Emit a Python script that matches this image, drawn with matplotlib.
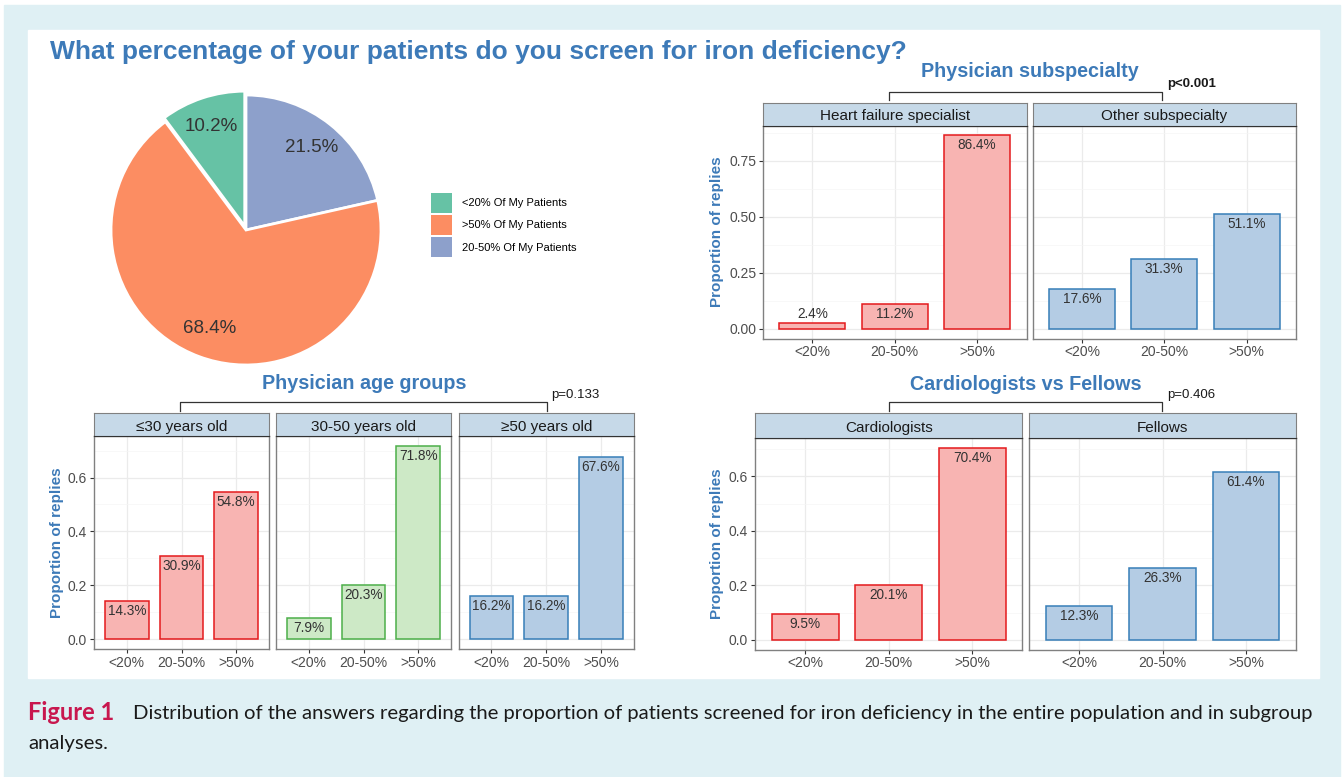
import matplotlib
matplotlib.use("Agg")

import matplotlib.pyplot as plt
import numpy as np
from matplotlib.patches import Patch, Rectangle

W, H = 1344, 777

# ---- data -------------------------------------------------------------
pie_labels = ["<20% Of My Patients", ">50% Of My Patients", "20-50% Of My Patients"]
pie_values = [10.2, 68.4, 21.5]
pie_colours = ["#66c2a5", "#fc8d62", "#8da0cb"]
pie_draw_order = [2, 1, 0]  # clockwise from twelve o'clock

answer_categories = ["<20%", "20-50%", ">50%"]

subspecialty_groups = ["Heart failure specialist", "Other subspecialty"]
subspecialty_values = [[0.024, 0.112, 0.864], [0.176, 0.313, 0.511]]
subspecialty_p = "p<0.001"

age_groups = ["\u226430 years old", "30-50 years old", "\u226550 years old"]
age_values = [[0.143, 0.309, 0.548], [0.079, 0.203, 0.718], [0.162, 0.162, 0.676]]
age_p = "p=0.133"

training_groups = ["Cardiologists", "Fellows"]
training_values = [[0.095, 0.201, 0.704], [0.123, 0.263, 0.614]]
training_p = "p=0.406"

# ---- styling ----------------------------------------------------------
plt.rcParams["font.family"] = ["Liberation Sans", "DejaVu Sans"]

TITLE_BLUE = "#3d7ab8"
FILLS = {"red": "#f8b4b2", "green": "#cde9c6", "blue": "#b4cce4"}
EDGES = {"red": "#e41a1c", "green": "#4daf4a", "blue": "#377eb8"}
BORDER = "#808080"


def rect(left, top, right, bottom):
    return [left / W, 1 - bottom / H, (right - left) / W, (bottom - top) / H]


fig = plt.figure(figsize=(W / 100, H / 100), dpi=100)

# background frame, drawn in pixel coordinates
bg = fig.add_axes([0, 0, 1, 1], zorder=-10)
bg.set_xlim(0, W)
bg.set_ylim(H, 0)
bg.axis("off")
bg.add_patch(Rectangle((4, 5), W - 8, H - 5, color="#dff0f4", zorder=0))
bg.add_patch(Rectangle((28, 30), 1291, 648, color="white", zorder=1))

bg.text(
    50, 58.5,
    "What percentage of your patients do you screen for iron deficiency?",
    color=TITLE_BLUE, fontsize=19, fontweight="bold", va="baseline",
)

# ---- pie --------------------------------------------------------------
pie_ax = fig.add_axes(rect(246 - 136, 230 - 136, 246 + 136, 230 + 136))
pie_ax.patch.set_alpha(0)
total = sum(pie_values)
pie_ax.pie(
    [pie_values[i] for i in pie_draw_order],
    colors=[pie_colours[i] for i in pie_draw_order],
    startangle=90,
    counterclock=False,
    explode=[0, 0, 0.03],
    autopct=lambda p: f"{p * total / 100:.1f}%",
    pctdistance=0.78,
    wedgeprops=dict(edgecolor="white", linewidth=2),
    textprops=dict(color="#333333", fontsize=13.5),
)
pie_ax.set_xlim(-1.0075, 1.0075)
pie_ax.set_ylim(-1.0075, 1.0075)
pie_ax.set_aspect("equal")

fig.legend(
    handles=[Patch(facecolor=c, edgecolor="none") for c in pie_colours],
    labels=pie_labels,
    loc="upper left",
    bbox_to_anchor=(431 / W, 1 - 192.7 / H),
    frameon=False,
    borderpad=0,
    borderaxespad=0,
    fontsize=8,
    handlelength=1.85,
    handleheight=2.46,
    labelspacing=0.15,
    handletextpad=0.95,
)


# ---- faceted bar charts -----------------------------------------------
def facet_group(groups, values, colours, spans, strip_top, panel_top,
                panel_bottom, yticks, tick_fmt, title, title_y, p_text,
                bracket, ylabel_x):
    ymax = max(max(v) for v in values)
    ylim = (-0.05 * ymax, 1.05 * ymax)
    step = yticks[1] - yticks[0]
    px_per_unit = (panel_bottom - panel_top) / (ylim[1] - ylim[0])
    x = np.arange(len(answer_categories))

    for i, ((left, right), name, vals, colour) in enumerate(
        zip(spans, groups, values, colours)
    ):
        ax = fig.add_axes(rect(left, panel_top, right, panel_bottom))
        ax.bar(x, vals, width=0.8, color=FILLS[colour],
               edgecolor=EDGES[colour], linewidth=1.1, zorder=3)
        ax.set_xlim(-0.6, len(x) - 0.4)
        ax.set_ylim(*ylim)
        ax.set_xticks(x, answer_categories)
        ax.set_yticks(yticks, [tick_fmt.format(t) for t in yticks])
        ax.set_yticks(np.arange(step / 2, ylim[1], step), minor=True)
        ax.set_axisbelow(True)
        ax.grid(which="major", color="#ebebeb", linewidth=0.9)
        ax.grid(which="minor", axis="y", color="#f5f5f5", linewidth=0.5)
        ax.tick_params(which="minor", length=0)
        ax.tick_params(which="major", length=2.75, width=0.8, color="#333333",
                       labelsize=10, labelcolor="#4d4d4d", pad=2.2)
        if i > 0:
            ax.tick_params(axis="y", left=False, labelleft=False)
        for spine in ax.spines.values():
            spine.set_color(BORDER)
            spine.set_linewidth(1.0)

        for xi, v in zip(x, vals):
            inside = v * px_per_unit > 20
            ax.annotate(
                f"{v * 100:.1f}%", xy=(xi, v),
                xytext=(0, -7.2 if inside else 7), textcoords="offset points",
                ha="center", va="center", fontsize=9.8, color="#333333",
                zorder=4,
            )

        strip = fig.add_axes(rect(left, strip_top, right, panel_top))
        strip.set_facecolor("#c6d9e8")
        strip.set_xticks([])
        strip.set_yticks([])
        for spine in strip.spines.values():
            spine.set_color(BORDER)
        strip.spines["bottom"].set_color("#333333")
        strip.text(0.5, 0.47, name, transform=strip.transAxes, ha="center",
                   va="center_baseline", fontsize=11, color="#1a1a1a")

    centre = (spans[0][0] + spans[-1][1]) / 2
    bg.text(centre, title_y, title, ha="center", va="center",
            fontsize=14.2, fontweight="bold", color=TITLE_BLUE)

    x0, x1, y_top, y_bottom = bracket
    bg.plot([x0, x0, x1, x1], [y_bottom, y_top, y_top, y_bottom],
            color="#333333", linewidth=0.9, zorder=5)
    bg.text(x1 + 4.5, y_top - 7.5, p_text, ha="left", va="center",
            fontsize=9.5, color="#1a1a1a",
            fontweight="bold" if "<" in p_text else "normal", zorder=5)

    bg.text(ylabel_x, (panel_top + panel_bottom) / 2, "Proportion of replies",
            rotation=90, ha="center", va="center", fontsize=11,
            fontweight="bold", color=TITLE_BLUE, zorder=5)


facet_group(
    subspecialty_groups, subspecialty_values, ["red", "blue"],
    [(763, 1026.5), (1032.6, 1296)], 102.7, 125.7, 338.5,
    [0, 0.25, 0.5, 0.75], "{:.2f}", "Physician subspecialty", 71.7,
    subspecialty_p, (888.6, 1162.4, 91.7, 99.5), 717,
)
facet_group(
    age_groups, age_values, ["red", "green", "blue"],
    [(94, 269), (276, 451), (458.6, 634)], 412.7, 436, 649,
    [0, 0.2, 0.4, 0.6], "{:.1f}", "Physician age groups", 383.3,
    age_p, (180, 546.7, 402.3, 410.5), 57,
)
facet_group(
    training_groups, training_values, ["red", "blue"],
    [(755, 1022.4), (1029, 1296)], 413.3, 438.3, 649.5,
    [0, 0.2, 0.4, 0.6], "{:.1f}", "Cardiologists vs Fellows", 384,
    training_p, (888.6, 1162.4, 402.3, 410.5), 717,
)

# ---- caption ----------------------------------------------------------
caption_font = ["Lato", "DejaVu Sans"]
bg.text(28, 713, "Figure 1", color="#c8174e", fontsize=17, fontweight="bold",
        va="center", family=caption_font)
bg.text(133, 713,
        "Distribution of the answers regarding the proportion of patients "
        "screened for iron deficiency in the entire population and in subgroup",
        color="#1a1a1a", fontsize=14.6, va="center", family=caption_font)
bg.text(28, 743, "analyses.", color="#1a1a1a", fontsize=14.6, va="center",
        family=caption_font)

fig.savefig("out.png", dpi=100)
